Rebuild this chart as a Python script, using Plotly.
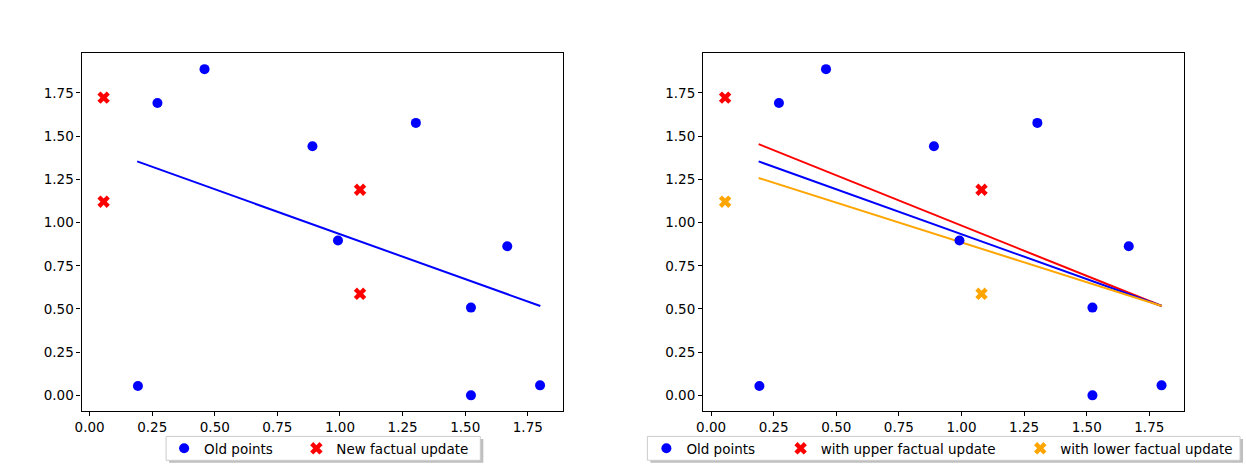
import plotly.graph_objects as go

W, H = 1246, 464

# ---- data ----
old_x = [0.193, 0.271, 0.459, 0.890, 0.992, 1.303, 1.523, 1.523, 1.668, 1.799]
old_y = [0.054, 1.692, 1.888, 1.442, 0.896, 1.577, 0.508, 0.000, 0.863, 0.058]

upper_x = [0.056, 1.080]
upper_y = [1.723, 1.190]
lower_x = [0.056, 1.080]
lower_y = [1.121, 0.588]

fit_x = [0.19, 1.80]
fit_old_y = [1.354, 0.517]
fit_upper_y = [1.454, 0.517]
fit_lower_y = [1.258, 0.517]

tick_vals = [0.00, 0.25, 0.50, 0.75, 1.00, 1.25, 1.50, 1.75]
tick_text = ["0.00", "0.25", "0.50", "0.75", "1.00", "1.25", "1.50", "1.75"]

BLUE, RED, ORANGE = "#0000ff", "#ff0000", "#ffa500"
FONT = "DejaVu Sans"
FS = 13.5


def px(x):
    return x / W


def py(y):
    return 1 - y / H


fig = go.Figure()

# left panel
fig.add_trace(go.Scatter(x=fit_x, y=fit_old_y, mode="lines", line=dict(color=BLUE, width=2),
                         showlegend=False, xaxis="x", yaxis="y"))
fig.add_trace(go.Scatter(x=old_x, y=old_y, mode="markers", name="Old points",
                         marker=dict(color=BLUE, size=10, symbol="circle"),
                         xaxis="x", yaxis="y", legend="legend"))
fig.add_trace(go.Scatter(x=upper_x + lower_x, y=upper_y + lower_y, mode="markers",
                         name="New factual update",
                         marker=dict(color=RED, size=11, symbol="x"),
                         xaxis="x", yaxis="y", legend="legend2"))

# right panel
fig.add_trace(go.Scatter(x=fit_x, y=fit_upper_y, mode="lines", line=dict(color=RED, width=2),
                         showlegend=False, xaxis="x2", yaxis="y2"))
fig.add_trace(go.Scatter(x=fit_x, y=fit_old_y, mode="lines", line=dict(color=BLUE, width=2),
                         showlegend=False, xaxis="x2", yaxis="y2"))
fig.add_trace(go.Scatter(x=fit_x, y=fit_lower_y, mode="lines", line=dict(color=ORANGE, width=2),
                         showlegend=False, xaxis="x2", yaxis="y2"))
fig.add_trace(go.Scatter(x=old_x, y=old_y, mode="markers", name="Old points",
                         marker=dict(color=BLUE, size=10, symbol="circle"),
                         xaxis="x2", yaxis="y2", legend="legend3"))
fig.add_trace(go.Scatter(x=upper_x, y=upper_y, mode="markers", name="with upper factual update",
                         marker=dict(color=RED, size=11, symbol="x"),
                         xaxis="x2", yaxis="y2", legend="legend4"))
fig.add_trace(go.Scatter(x=lower_x, y=lower_y, mode="markers", name="with lower factual update",
                         marker=dict(color=ORANGE, size=11, symbol="x"),
                         xaxis="x2", yaxis="y2", legend="legend5"))

axis_common = dict(
    showline=True, linecolor="black", linewidth=1.2, mirror=True,
    ticks="outside", ticklen=4, tickwidth=1.2, tickcolor="black",
    showgrid=False, zeroline=False,
    tickvals=tick_vals, ticktext=tick_text,
    tickfont=dict(family=FONT, size=FS, color="black"),
)
xr = [-0.032, 1.89]
yr = [-0.090, 1.981]

legend_common = dict(
    orientation="h", bgcolor="rgba(0,0,0,0)", borderwidth=0,
    font=dict(family=FONT, size=FS, color="black"),
    xanchor="left", yanchor="middle",
)
leg_y = py(450.5)
TXT_OFF = 46

fig.update_layout(
    width=W, height=H,
    margin=dict(l=0, r=0, t=0, b=0),
    paper_bgcolor="white", plot_bgcolor="white",
    font=dict(family=FONT, size=FS, color="black"),
    xaxis=dict(domain=[px(75), px(559)], range=xr, anchor="y", **axis_common),
    yaxis=dict(domain=[py(412.7), py(53.3)], range=yr, anchor="x", **axis_common),
    xaxis2=dict(domain=[px(700), px(1184)], range=xr, anchor="y2", **axis_common),
    yaxis2=dict(domain=[py(412.7), py(53.3)], range=yr, anchor="x2", **axis_common),
    legend=dict(x=px(204 - TXT_OFF), y=leg_y, **legend_common),
    legend2=dict(x=px(337 - TXT_OFF), y=leg_y, **legend_common),
    legend3=dict(x=px(689 - TXT_OFF), y=leg_y, **legend_common),
    legend4=dict(x=px(824 - TXT_OFF), y=leg_y, **legend_common),
    legend5=dict(x=px(1065 - TXT_OFF), y=leg_y, **legend_common),
)

# legend frames (with a soft shadow, like matplotlib's)
for x0, x1 in [(160, 476), (644, 1240)]:
    fig.add_shape(type="rect", xref="paper", yref="paper",
                  x0=px(x0 + 3), x1=px(x1 + 3), y0=py(462.3 + 2.5), y1=py(438.3 + 2.5),
                  line=dict(width=0), fillcolor="rgba(0,0,0,0.25)", layer="above")
    fig.add_shape(type="rect", xref="paper", yref="paper",
                  x0=px(x0), x1=px(x1), y0=py(462.3), y1=py(438.3),
                  line=dict(color="#cccccc", width=1), fillcolor="white", layer="above")

fig.write_html(
    "out.html",
    config={"displayModeBar": False},
    post_script="document.body.style.margin='0px';document.body.style.overflow='hidden';",
)
